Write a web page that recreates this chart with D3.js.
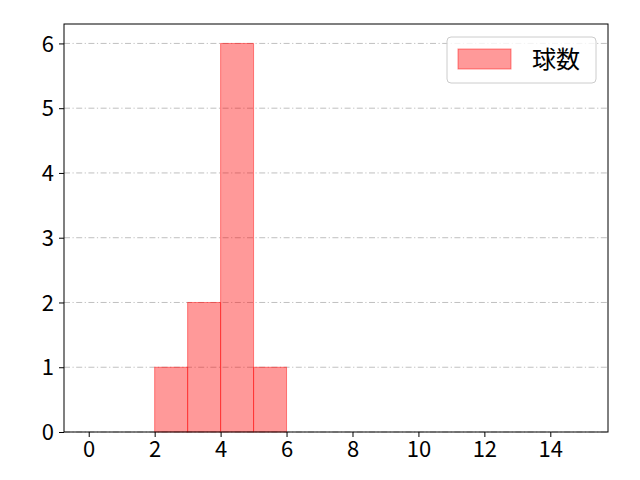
<!DOCTYPE html>
<html>
<head>
<meta charset="utf-8">
<script src="https://cdn.jsdelivr.net/npm/d3@7"></script>
<style>
  body { margin: 0; background: #fff; }
  text { font-family: "Noto Sans CJK JP", "DejaVu Sans", sans-serif; }
</style>
</head>
<body>
<div id="chart"></div>
<script>
// histogram bins (width 1) and counts
const binStarts = [0, 1, 2, 3, 4, 5, 6, 7, 8, 9, 10, 11, 12, 13, 14];
const counts = [0, 0, 1, 2, 6, 1, 0, 0, 0, 0, 0, 0, 0, 0, 0];
const xTicks = [0, 2, 4, 6, 8, 10, 12, 14];
const yTicks = [0, 1, 2, 3, 4, 5, 6];
const seriesName = "球数";

const margin = { top: 24, right: 32, bottom: 48, left: 64 };
const width = 640 - margin.left - margin.right;
const height = 480 - margin.top - margin.bottom;

const svg = d3.select("#chart")
    .append("svg")
    .attr("width", 640)
    .attr("height", 480);

const g = svg.append("g")
    .attr("transform", `translate(${margin.left},${margin.top})`);

// matplotlib style 5% margins
const x = d3.scaleLinear().domain([-0.75, 15.75]).range([0, width]);
const y = d3.scaleLinear().domain([0, 6.3]).range([height, 0]);

// grid
g.selectAll(".grid")
    .data(yTicks)
    .enter().append("line")
    .attr("class", "grid")
    .attr("x1", 0)
    .attr("x2", width)
    .attr("y1", d => y(d))
    .attr("y2", d => y(d))
    .attr("stroke", "#b0b0b0")
    .attr("stroke-width", 0.8)
    .attr("stroke-dasharray", "6,2.5,1.2,2.5");

// bars
const bins = binStarts.map((b, i) => ({ x0: b, x1: b + 1, count: counts[i] }));
g.selectAll(".bar")
    .data(bins)
    .enter().append("rect")
    .attr("class", "bar")
    .attr("x", d => x(d.x0))
    .attr("y", d => y(d.count))
    .attr("width", d => x(d.x1) - x(d.x0))
    .attr("height", d => y(0) - y(d.count))
    .attr("fill", "red")
    .attr("fill-opacity", 0.4)
    .attr("stroke", "red")
    .attr("stroke-opacity", 0.45)
    .attr("stroke-width", 1);

// axes
const xAxis = g.append("g")
    .attr("transform", `translate(0,${height})`)
    .call(d3.axisBottom(x).tickValues(xTicks).tickSize(5).tickPadding(4).tickFormat(d3.format("d")));
const yAxis = g.append("g")
    .call(d3.axisLeft(y).tickValues(yTicks).tickSize(5).tickPadding(5).tickFormat(d3.format("d")));

[xAxis, yAxis].forEach(a => {
    a.select(".domain").remove();
    a.selectAll("line").attr("stroke", "black").attr("stroke-width", 1);
    a.selectAll("text").attr("font-size", "22px").attr("fill", "black")
        .style("font-family", '"Noto Sans CJK JP", sans-serif');
});
yAxis.selectAll("text").attr("dy", "0.35em");

// frame
g.append("rect")
    .attr("x", 0)
    .attr("y", 0)
    .attr("width", width)
    .attr("height", height)
    .attr("fill", "none")
    .attr("stroke", "black")
    .attr("stroke-width", 1);

// legend
const legend = g.append("g")
    .attr("transform", `translate(${width - 161},13)`);
legend.append("rect")
    .attr("width", 149)
    .attr("height", 46)
    .attr("rx", 4)
    .attr("fill", "white")
    .attr("fill-opacity", 0.8)
    .attr("stroke", "#cccccc");
legend.append("rect")
    .attr("x", 11)
    .attr("y", 12)
    .attr("width", 53)
    .attr("height", 20)
    .attr("fill", "red")
    .attr("fill-opacity", 0.4)
    .attr("stroke", "red")
    .attr("stroke-opacity", 0.45);
legend.append("text")
    .attr("x", 85)
    .attr("y", 23)
    .attr("dy", "0.35em")
    .attr("font-size", "24px")
    .attr("fill", "black")
    .text(seriesName);
</script>
</body>
</html>
